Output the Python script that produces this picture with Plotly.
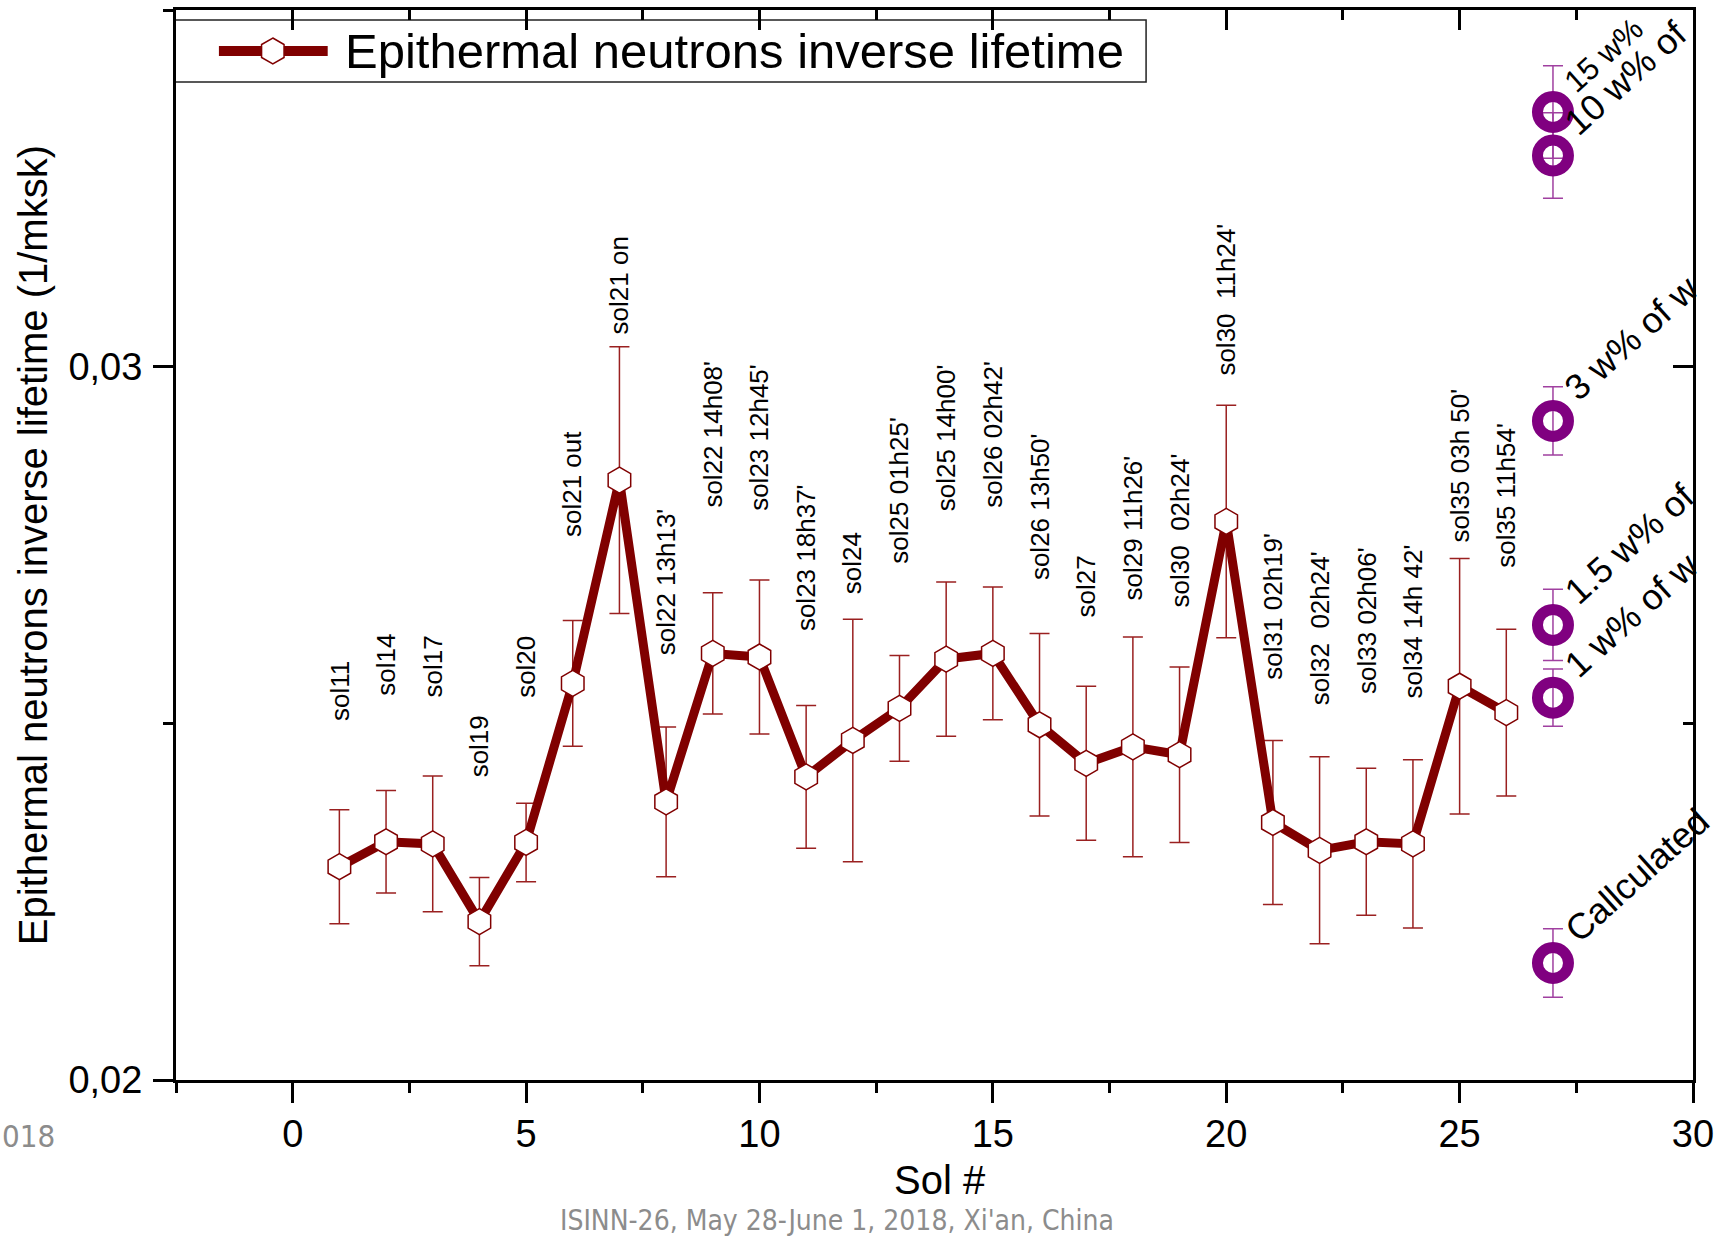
import plotly.graph_objects as go

# ---------------- data ----------------
sol_x = list(range(1, 27))
lifetime = [0.02299, 0.02334, 0.02331, 0.02222, 0.02333, 0.02556, 0.02841, 0.02390,
            0.02598, 0.02593, 0.02425, 0.02476, 0.02521, 0.02590, 0.02598, 0.02498,
            0.02444, 0.02467, 0.02456, 0.02783, 0.02361, 0.02322, 0.02334, 0.02331,
            0.02552, 0.02515]
lifetime_err = [0.00080, 0.00072, 0.00095, 0.00062, 0.00055, 0.00088, 0.00187, 0.00105,
                0.00085, 0.00108, 0.00100, 0.00170, 0.00074, 0.00108, 0.00093, 0.00128,
                0.00108, 0.00154, 0.00123, 0.00163, 0.00115, 0.00131, 0.00103, 0.00118,
                0.00179, 0.00117]
sol_labels = ["sol11", "sol14", "sol17", "sol19", "sol20", "sol21 out", "sol21 on",
              "sol22 13h13'", "sol22 14h08'", "sol23 12h45'", "sol23 18h37'", "sol24",
              "sol25 01h25'", "sol25 14h00'", "sol26 02h42'", "sol26 13h50'", "sol27",
              "sol29 11h26'", "sol30  02h24'", "sol30  11h24'", "sol31 02h19'",
              "sol32  02h24'", "sol33 02h06'", "sol34 14h 42'", "sol35 03h 50'",
              "sol35 11h54'"]
label_y = [0.02501, 0.02536, 0.02533, 0.02422, 0.02533, 0.02758, 0.03043, 0.02592,
           0.02800, 0.02795, 0.02626, 0.02678, 0.02721, 0.02794, 0.02800, 0.02698,
           0.02646, 0.02670, 0.02659, 0.02985, 0.02559, 0.02522, 0.02538, 0.02532,
           0.02750, 0.02715]

water_x = [27, 27, 27, 27, 27, 27]
water_vals = [0.03357, 0.03296, 0.02924, 0.02638, 0.02536, 0.02164]
water_err = [0.00065, 0.00060, 0.00048, 0.00050, 0.00040, 0.00048]
water_labels = ["15 w%", "10 w% of", "3 w% of w", "1.5 w% of", "1 w% of w", "Callculated"]

series_name = "Epithermal neutrons inverse lifetime"
x_title = "Sol #"
y_title = "Epithermal neutrons inverse lifetime (1/mksk)"
footer = "ISINN-26, May 28-June 1, 2018, Xi'an, China"
footer_left = "018"

# ---------------- layout geometry ----------------
W, H = 1724, 1237
ML, MR, MT, MB = 176, 28, 10, 157
PW, PH = W - ML - MR, H - MT - MB


def px(X):
    return (X - ML) / PW


def py(Y):
    return (H - MB - Y) / PH


MAROON = "#800000"
PURPLE = "#800080"
FONT = "Liberation Sans, Arial, sans-serif"
NARROW = "Liberation Sans Narrow, Arial Narrow, DejaVu Sans Condensed, sans-serif"

fig = go.Figure()

# error bars first (beneath lines and markers)
fig.add_trace(go.Scatter(
    x=sol_x, y=lifetime, mode="markers", marker=dict(size=1, opacity=0),
    error_y=dict(type="data", array=lifetime_err, color="#9a2020", thickness=1.5, width=10),
    showlegend=False, cliponaxis=False, hoverinfo="skip",
))
fig.add_trace(go.Scatter(
    x=water_x, y=water_vals, mode="markers", marker=dict(size=1, opacity=0),
    error_y=dict(type="data", array=water_err, color="#a040a0", thickness=1.5, width=10),
    showlegend=False, cliponaxis=False, hoverinfo="skip",
))

fig.add_trace(go.Scatter(
    x=sol_x, y=lifetime, mode="lines+markers", name=series_name,
    line=dict(color=MAROON, width=9),
    marker=dict(symbol="hexagon", size=26, color="white", line=dict(color=MAROON, width=1.5)),
    showlegend=False, cliponaxis=False,
))

fig.add_trace(go.Scatter(
    x=water_x, y=water_vals, mode="markers",
    marker=dict(symbol="circle-open", size=31, color=PURPLE, line=dict(width=11)),
    showlegend=False, cliponaxis=False,
))

# dummy trace for mirrored axes
fig.add_trace(go.Scatter(x=[None], y=[None], xaxis="x2", yaxis="y2", showlegend=False,
                         hoverinfo="skip"))

annotations = []
for xv, yv, t in zip(sol_x, label_y, sol_labels):
    annotations.append(dict(
        x=xv, y=yv, xref="x", yref="y", text=t.replace("  ", "\u00a0\u00a0"),
        textangle=-90, xanchor="center", yanchor="bottom", showarrow=False,
        font=dict(family=FONT, size=26, color="black")))

for i, (xv, yv, t) in enumerate(zip(water_x, water_vals, water_labels)):
    annotations.append(dict(
        x=xv, y=yv, xref="x", yref="y", text=t, textangle=-42,
        xanchor="left", yanchor="bottom", xshift=1, yshift=10, showarrow=False,
        font=dict(family=FONT, size=31 if i == 0 else 36, color="black")))

# axis titles
annotations.append(dict(x=px(33), y=0.5, xref="paper", yref="paper", text=y_title,
                        textangle=-90, xanchor="center", yanchor="middle", showarrow=False,
                        font=dict(family=FONT, size=40, color="black")))
annotations.append(dict(x=px(942), y=py(1180), xref="paper", yref="paper", text=x_title,
                        xanchor="center", yanchor="middle", showarrow=False,
                        font=dict(family=FONT, size=40, color="black")))
# footer texts
annotations.append(dict(x=px(838), y=py(1220), xref="paper", yref="paper", text=footer,
                        xanchor="center", yanchor="middle", showarrow=False,
                        font=dict(family=NARROW, size=28, color="#8c8c8c")))
annotations.append(dict(x=px(0), y=py(1136), xref="paper", yref="paper", text=footer_left,
                        xanchor="left", yanchor="middle", showarrow=False,
                        font=dict(family=NARROW, size=31, color="#8c8c8c")))
# legend text
annotations.append(dict(x=px(343), y=py(51), xref="paper", yref="paper", text=series_name,
                        xanchor="left", yanchor="middle", showarrow=False,
                        font=dict(family=FONT, size=49, color="black")))

# custom legend box, line and hexagon
shapes = [
    dict(type="rect", xref="paper", yref="paper", x0=px(175), x1=px(1148), y0=py(82), y1=py(20),
         line=dict(color="#222222", width=1.5), fillcolor="white", layer="below"),
    dict(type="line", xref="paper", yref="paper", x0=px(219), x1=px(328), y0=py(51), y1=py(51),
         line=dict(color=MAROON, width=10)),
]
cx, cy, r = 273, 51, 13
r2 = r * 3 ** 0.5 / 2
pts = [(cx, cy - r), (cx + r2, cy - r / 2), (cx + r2, cy + r / 2), (cx, cy + r),
       (cx - r2, cy + r / 2), (cx - r2, cy - r / 2)]
path = "M " + " L ".join(f"{px(a):.5f},{py(b):.5f}" for a, b in pts) + " Z"
shapes.append(dict(type="path", xref="paper", yref="paper", path=path,
                   fillcolor="white", line=dict(color=MAROON, width=1.5)))

axis_common = dict(showgrid=False, zeroline=False, showline=True, linecolor="black", linewidth=3,
                   tickcolor="black", tickwidth=3, ticklen=20)

fig.update_layout(
    width=W, height=H, margin=dict(l=ML, r=MR, t=MT, b=MB, pad=0),
    paper_bgcolor="white", plot_bgcolor="white", separators=",.",
    font=dict(family=FONT, color="black"),
    xaxis=dict(range=[-2.5, 30], tick0=0, dtick=5, ticks="outside",
               tickfont=dict(family=FONT, size=38), ticklabelstandoff=-2,
               minor=dict(ticks="outside", dtick=2.5, tick0=0, ticklen=10, tickwidth=3, tickcolor="black"),
               **axis_common),
    yaxis=dict(range=[0.02, 0.035], tick0=0.02, dtick=0.01, ticks="outside", tickformat=".2f",
               tickfont=dict(family=FONT, size=38), ticklabelstandoff=3,
               minor=dict(ticks="outside", dtick=0.005, tick0=0.02, ticklen=10, tickwidth=3, tickcolor="black"),
               **axis_common),
    xaxis2=dict(range=[-2.5, 30], overlaying="x", side="top", tick0=0, dtick=5, ticks="inside",
                showticklabels=False, anchor="y2",
                minor=dict(ticks="inside", dtick=2.5, tick0=0, ticklen=10, tickwidth=3, tickcolor="black"),
                **axis_common),
    yaxis2=dict(range=[0.02, 0.035], overlaying="y", side="right", tick0=0.02, dtick=0.01, ticks="inside",
                showticklabels=False, anchor="x2",
                minor=dict(ticks="inside", dtick=0.005, tick0=0.02, ticklen=10, tickwidth=3, tickcolor="black"),
                **axis_common),
    annotations=annotations, shapes=shapes, showlegend=False,
)

fig.write_html("out.html")
